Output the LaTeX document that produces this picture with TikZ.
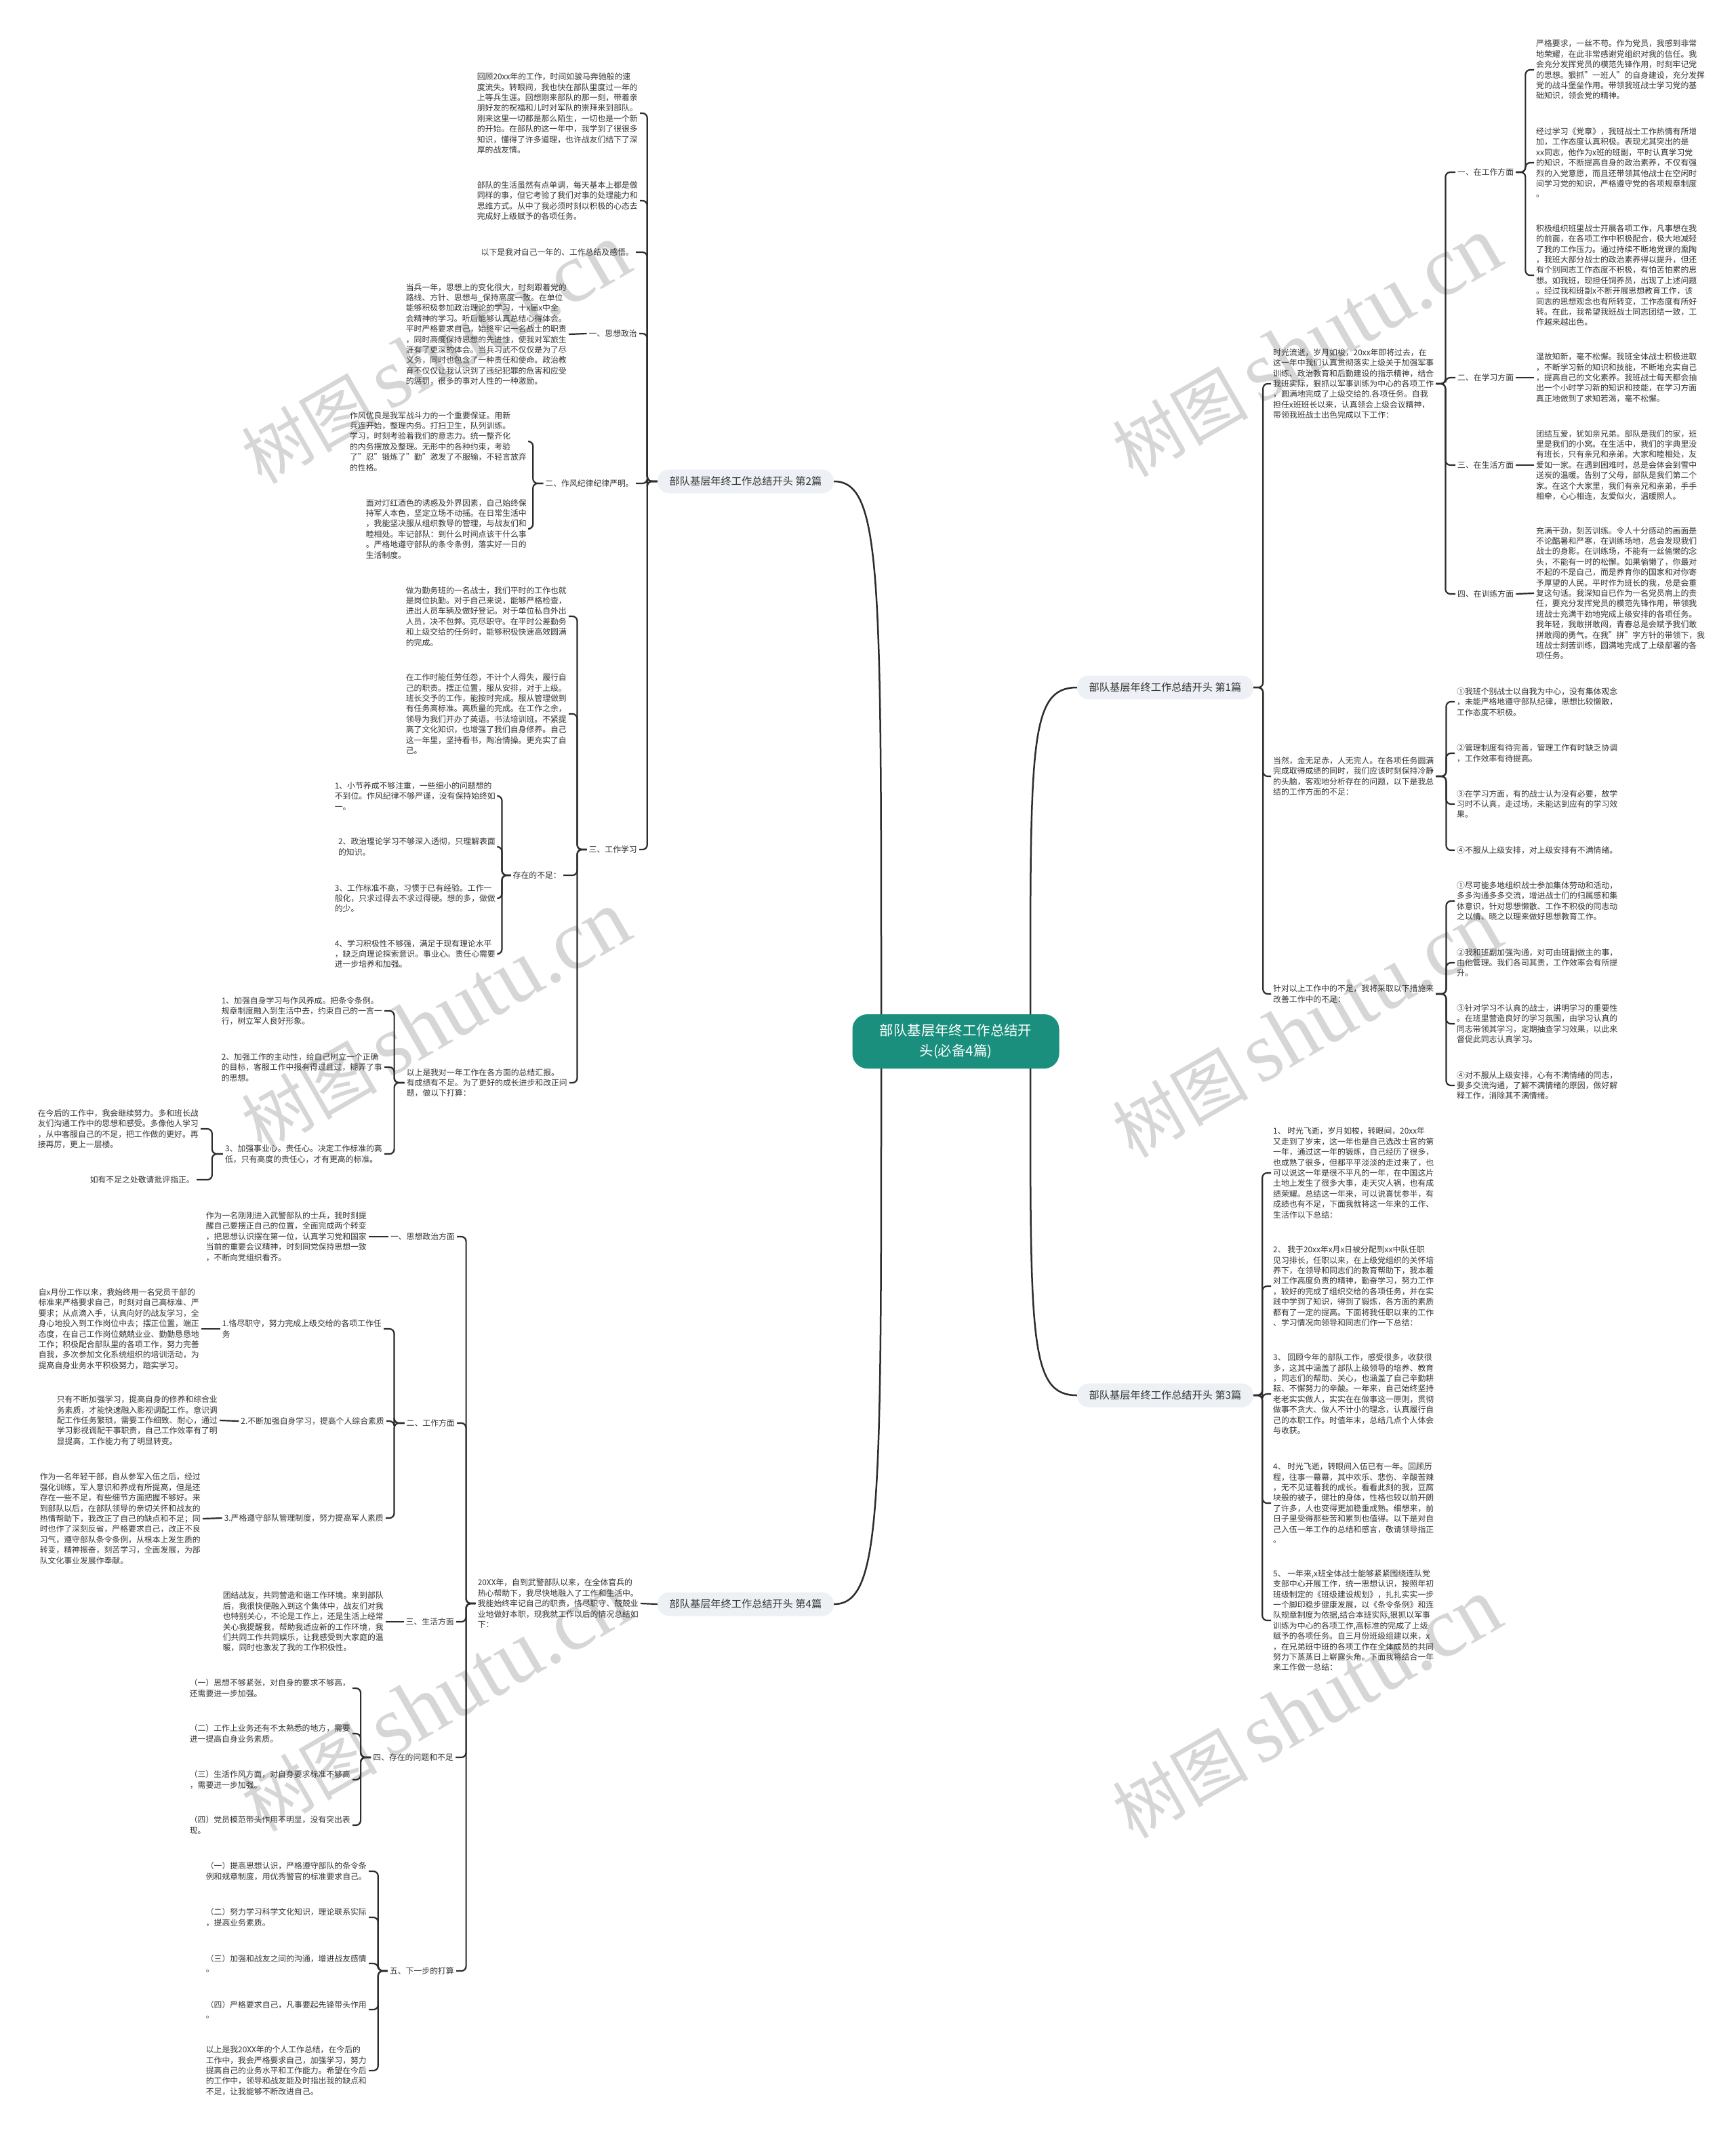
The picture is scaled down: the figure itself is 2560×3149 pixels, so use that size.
\documentclass[tikz,border=0pt]{standalone}
\usepackage{fontspec}
\setmainfont{Noto Sans CJK SC}
\newfontfamily\marcafont{Liberation Serif}
\definecolor{verde}{RGB}{26,143,125}
\definecolor{grisrama}{RGB}{237,240,244}
\definecolor{tinta}{RGB}{51,51,51}
\definecolor{linea}{RGB}{45,45,45}
\definecolor{grismarca}{RGB}{214,214,214}

\begin{document}
\begin{tikzpicture}[
        x=1pt, y=-1pt,
        raiz/.style={rectangle, rounded corners=22pt, fill=verde, text=white, minimum width=305pt, minimum height=80pt, align=center, font=\fontsize{20.4}{30}\selectfont},
        rama/.style={rectangle, rounded corners=17pt, fill=grisrama, text=tinta, minimum width=260pt, minimum height=35pt, font=\fontsize{15.2}{18}\selectfont},
        texto/.style={rectangle, align=left, inner sep=3pt, text=tinta, font=\fontsize{11.85}{15.4}\selectfont},
        sello/.style={text=grismarca, rotate=30, inner sep=0pt},
        enlace/.style={draw=linea, line width=2.2pt, rounded corners=7pt},
        curva/.style={draw=linea, line width=2.5pt}
    ]
        \fill[white] (0,0) rectangle (2560,3149);
        \useasboundingbox (0,0) rectangle (2560,3149);

        % marcas de agua
        \foreach \px/\py [count=\i] in {643/522, 1928/512, 643/1506, 1928/1516, 643/2510, 1928/2520}
            \node[sello] (sello\i) at (\px,\py) {\fontsize{100}{100}\selectfont 树图\,{\marcafont\fontsize{125}{125}\selectfont shutu.cn}};

        % centro y ramas
        \node[raiz] (raiz) at (1410,1536) {部队基层年终工作总结开\\头(必备4篇)};
        \node[rama] (b2) at (1100,710) {部队基层年终工作总结开头 第2篇};
        \node[rama] (b1) at (1719,1014) {部队基层年终工作总结开头 第1篇};
        \node[rama] (b3) at (1719,2058) {部队基层年终工作总结开头 第3篇};
        \node[rama] (b4) at (1100,2366) {部队基层年终工作总结开头 第4篇};

        \draw[curva] (b2.east) .. controls +(70,0) and +(0,-650) .. ([xshift=-110pt]raiz.north);
        \draw[curva] (b1.west) .. controls +(-70,0) and +(0,-400) .. ([xshift=110pt]raiz.north);
        \draw[curva] (b3.west) .. controls +(-70,0) and +(0,400) .. ([xshift=110pt]raiz.south);
        \draw[curva] (b4.east) .. controls +(70,0) and +(0,650) .. ([xshift=-110pt]raiz.south);

        % rama 2
        \node[texto, anchor=east] (p1) at (944,167) {回顾20xx年的工作，时间如骏马奔驰般的速\\度流失。转眼间，我也快在部队里度过一年的\\上等兵生涯。回想刚来部队的那一刻，带着亲\\朋好友的祝福和儿时对军队的崇拜来到部队。\\刚来这里一切都是那么陌生，一切也是一个新\\的开始。在部队的这一年中，我学到了很很多\\知识，懂得了许多道理，也许战友们结下了深\\厚的战友情。};
        \node[texto, anchor=east] (p2) at (944,296) {部队的生活虽然有点单调，每天基本上都是做\\同样的事，但它考验了我们对事的处理能力和\\思维方式。从中了我必须时刻以积极的心态去\\完成好上级赋予的各项任务。};
        \node[texto, anchor=east] (p3) at (938,372) {以下是我对自己一年的、工作总结及感悟。};
        \node[texto, anchor=east] (l1) at (943,492) {一、思想政治};
        \node[texto, anchor=east] (p4) at (839,493) {当兵一年，思想上的变化很大，时刻跟着党的\\路线、方针、思想与\_保持高度一致。在单位\\能够积极参加政治理论的学习，十x届x中全\\会精神的学习。听后能够认真总结心得体会。\\平时严格要求自己，始终牢记一名战士的职责\\，同时高度保持思想的先进性，使我对军旅生\\涯有了更深的体会。当兵习武不仅仅是为了尽\\义务，同时也包含了一种责任和使命。政治教\\育不仅仅让我认识到了违纪犯罪的危害和应受\\的惩罚，很多的事对人性的一种激励。};
        \node[texto, anchor=east] (l2) at (938,713) {二、作风纪律纪律严明。};
        \node[texto, anchor=east] (p5) at (780,651) {作风优良是我军战斗力的一个重要保证。用新\\兵连开始，整理内务。打扫卫生，队列训练。\\学习，时刻考验着我们的意志力。统一整齐化\\的内务摆放及整理。无形中的各种约束，考验\\了"忍"锻炼了"勤"激发了不服输，不轻言放弃\\的性格。};
        \node[texto, anchor=east] (p6) at (780,780) {面对灯红酒色的诱惑及外界因素，自己始终保\\持军人本色，坚定立场不动摇。在日常生活中\\，我能坚决服从组织教导的管理，与战友们和\\睦相处。牢记部队：到什么时间点该干什么事\\。严格地遵守部队的条令条例，落实好一日的\\生活制度。};
        \node[texto, anchor=east] (l3) at (943,1253) {三、工作学习};
        \node[texto, anchor=east] (p7) at (839,909) {做为勤务班的一名战士，我们平时的工作也就\\是岗位执勤。对于自己来说，能够严格检查，\\进出人员车辆及做好登记。对于单位私自外出\\人员，决不包弊。克尽职守。在平时公差勤务\\和上级交给的任务时，能够积极快速高效圆满\\的完成。};
        \node[texto, anchor=east] (p8) at (839,1053) {在工作时能任劳任怨，不计个人得失，履行自\\己的职责。摆正位置，服从安排，对于上级。\\班长交予的工作，能按时完成。服从管理做到\\有任务高标准。高质量的完成。在工作之余，\\领导为我们开办了英语。书法培训班。不紧提\\高了文化知识，也增强了我们自身修养。自己\\这一年里，坚持看书，陶冶情操。更充实了自\\己。};
        \node[texto, anchor=east] (l4) at (831,1291) {存在的不足：};
        \node[texto, anchor=east] (q1) at (734,1174) {1、小节养成不够注重，一些细小的问题想的\\不到位。作风纪律不够严谨，没有保持始终如\\一。};
        \node[texto, anchor=east] (q2) at (734,1249) {2、政治理论学习不够深入透彻，只理解表面\\的知识。};
        \node[texto, anchor=east] (q3) at (734,1325) {3、工作标准不高，习惯于已有经验。工作一\\般化，只求过得去不求过得硬。想的多，做做\\的少。};
        \node[texto, anchor=east] (q4) at (734,1407) {4、学习积极性不够强，满足于现有理论水平\\，缺乏向理论探索意识。事业心。责任心需要\\进一步培养和加强。};
        \node[texto, anchor=east] (p9) at (840,1597) {以上是我对一年工作在各方面的总结汇报。\\有成绩有不足。为了更好的成长进步和改正问\\题，做以下打算：};
        \node[texto, anchor=east] (r1) at (567,1491) {1、加强自身学习与作风养成。把条令条例。\\规章制度融入到生活中去，约束自己的一言一\\行，树立军人良好形象。};
        \node[texto, anchor=east] (r2) at (567,1574) {2、加强工作的主动性，给自己树立一个正确\\的目标，客服工作中报有得过且过，糊弄了事\\的思想。};
        \node[texto, anchor=east] (r3) at (567,1702) {3、加强事业心。责任心。决定工作标准的高\\低，只有高度的责任心，才有更高的标准。};
        \node[texto, anchor=east] (s1) at (296,1665) {在今后的工作中，我会继续努力。多和班长战\\友们沟通工作中的思想和感受。多像他人学习\\，从中客服自己的不足，把工作做的更好。再\\接再厉，更上一层楼。};
        \node[texto, anchor=east] (s2) at (290,1740) {如有不足之处敬请批评指正。};

        \draw[enlace] (b2.west) -- ++(-15,0) |- (p1.east);
        \draw[enlace] (b2.west) -- ++(-15,0) |- (p2.east);
        \draw[enlace] (b2.west) -- ++(-15,0) |- (p3.east);
        \draw[enlace] (b2.west) -- ++(-15,0) |- (l1.east);
        \draw[enlace] (b2.west) -- ++(-15,0) |- (l2.east);
        \draw[enlace] (b2.west) -- ++(-15,0) |- (l3.east);
        \draw[enlace] (l1.west) -- (p4.east);
        \draw[enlace] (l2.west) -- ++(-15,0) |- (p5.east);
        \draw[enlace] (l2.west) -- ++(-15,0) |- (p6.east);
        \draw[enlace] (l3.west) -- ++(-14,0) |- (p7.east);
        \draw[enlace] (l3.west) -- ++(-14,0) |- (p8.east);
        \draw[enlace] (l3.west) -- ++(-14,0) |- (l4.east);
        \draw[enlace] (l3.west) -- ++(-14,0) |- (p9.east);
        \draw[enlace] (l4.west) -- ++(-13,0) |- (q1.east);
        \draw[enlace] (l4.west) -- ++(-13,0) |- (q2.east);
        \draw[enlace] (l4.west) -- ++(-13,0) |- (q3.east);
        \draw[enlace] (l4.west) -- ++(-13,0) |- (q4.east);
        \draw[enlace] (p9.west) -- ++(-15,0) |- (r1.east);
        \draw[enlace] (p9.west) -- ++(-15,0) |- (r2.east);
        \draw[enlace] (p9.west) -- ++(-15,0) |- (r3.east);
        \draw[enlace] (r3.west) -- ++(-16,0) |- (s1.east);
        \draw[enlace] (r3.west) -- ++(-16,0) |- (s2.east);

        % rama 4
        \node[texto, anchor=east] (f0) at (945,2365) {20XX年，自到武警部队以来，在全体官兵的\\热心帮助下，我尽快地融入了工作和生活中。\\我能始终牢记自己的职责，恪尽职守、兢兢业\\业地做好本职，现我就工作以后的情况总结如\\下：};
        \node[texto, anchor=east] (m1) at (674,1824) {一、思想政治方面};
        \node[texto, anchor=east] (m2) at (674,2099) {二、工作方面};
        \node[texto, anchor=east] (m3) at (673,2392) {三、生活方面};
        \node[texto, anchor=east] (m4) at (672,2592) {四、存在的问题和不足};
        \node[texto, anchor=east] (m5) at (673,2907) {五、下一步的打算};
        \node[texto, anchor=east] (t1) at (544,1824) {作为一名刚刚进入武警部队的士兵，我时刻提\\醒自己要摆正自己的位置，全面完成两个转变\\，把思想认识摆在第一位，认真学习党和国家\\当前的重要会议精神，时刻同党保持思想一致\\，不断向党组织看齐。};
        \node[texto, anchor=east] (n1) at (566,1960) {1.恪尽职守，努力完成上级交给的各项工作任\\务};
        \node[texto, anchor=east] (n2) at (570,2096) {2.不断加强自身学习，提高个人综合素质};
        \node[texto, anchor=east] (n3) at (569,2239) {3.严格遵守部队管理制度，努力提高军人素质};
        \node[texto, anchor=east] (u1) at (297,1960) {自x月份工作以来，我始终用一名党员干部的\\标准来严格要求自己，时刻对自己高标准、严\\要求；从点滴入手，认真向好的战友学习，全\\身心地投入到工作岗位中去；摆正位置，端正\\态度，在自己工作岗位兢兢业业、勤勤恳恳地\\工作；积极配合部队里的各项工作，努力完善\\自我，多次参加文化系统组织的培训活动，为\\提高自身业务水平积极努力，踏实学习。};
        \node[texto, anchor=east] (u2) at (324,2095) {只有不断加强学习，提高自身的修养和综合业\\务素质，才能快速融入影视调配工作。意识调\\配工作任务繁琐，需要工作细致、耐心，通过\\学习影视调配干事职责，自己工作效率有了明\\显提高，工作能力有了明显转变。};
        \node[texto, anchor=east] (u3) at (299,2240) {作为一名年轻干部，自从参军入伍之后，经过\\强化训练，军人意识和养成有所提高，但是还\\存在一些不足，有些细节方面把握不够好。来\\到部队以后，在部队领导的亲切关怀和战友的\\热情帮助下，我改正了自己的缺点和不足；同\\时也作了深刻反省，严格要求自己，改正不良\\习气，遵守部队条令条例，从根本上发生质的\\转变，精神振奋，刻苦学习，全面发展，为部\\队文化事业发展作奉献。};
        \node[texto, anchor=east] (v1) at (569,2392) {团结战友，共同营造和谐工作环境。来到部队\\后，我很快便融入到这个集体中，战友们对我\\也特别关心，不论是工作上，还是生活上经常\\关心我提醒我，帮助我适应新的工作环境，我\\们共同工作共同娱乐，让我感受到大家庭的温\\暖，同时也激发了我的工作积极性。};
        \node[texto, anchor=east] (k1) at (520,2490) {（一）思想不够紧张，对自身的要求不够高，\\还需要进一步加强。};
        \node[texto, anchor=east] (k2) at (520,2557) {（二）工作上业务还有不太熟悉的地方，需要\\进一提高自身业务素质。};
        \node[texto, anchor=east] (k3) at (520,2625) {（三）生活作风方面，对自身要求标准不够高\\，需要进一步加强。};
        \node[texto, anchor=east] (k4) at (520,2692) {（四）党员模范带头作用不明显，没有突出表\\现。};
        \node[texto, anchor=east] (j1) at (544,2760) {（一）提高思想认识，严格遵守部队的条令条\\例和规章制度，用优秀警官的标准要求自己。};
        \node[texto, anchor=east] (j2) at (544,2828) {（二）努力学习科学文化知识，理论联系实际\\，提高业务素质。};
        \node[texto, anchor=east] (j3) at (544,2896) {（三）加强和战友之间的沟通，增进战友感情\\。};
        \node[texto, anchor=east] (j4) at (544,2964) {（四）严格要求自己，凡事要起先锋带头作用\\。};
        \node[texto, anchor=east] (j5) at (544,3054) {以上是我20XX年的个人工作总结，在今后的\\工作中，我会严格要求自己，加强学习，努力\\提高自己的业务水平和工作能力。希望在今后\\的工作中，领导和战友能及时指出我的缺点和\\不足，让我能够不断改进自己。};

        \draw[enlace] (b4.west) -- (f0.east);
        \draw[enlace] (f0.west) -- ++(-14,0) |- (m1.east);
        \draw[enlace] (f0.west) -- ++(-14,0) |- (m2.east);
        \draw[enlace] (f0.west) -- ++(-14,0) |- (m3.east);
        \draw[enlace] (f0.west) -- ++(-14,0) |- (m4.east);
        \draw[enlace] (f0.west) -- ++(-14,0) |- (m5.east);
        \draw[enlace] (m1.west) -- (t1.east);
        \draw[enlace] (m2.west) -- ++(-15,0) |- (n1.east);
        \draw[enlace] (m2.west) -- ++(-15,0) |- (n2.east);
        \draw[enlace] (m2.west) -- ++(-15,0) |- (n3.east);
        \draw[enlace] (n1.west) -- (u1.east);
        \draw[enlace] (n2.west) -- (u2.east);
        \draw[enlace] (n3.west) -- (u3.east);
        \draw[enlace] (m3.west) -- (v1.east);
        \draw[enlace] (m4.west) -- ++(-15,0) |- (k1.east);
        \draw[enlace] (m4.west) -- ++(-15,0) |- (k2.east);
        \draw[enlace] (m4.west) -- ++(-15,0) |- (k3.east);
        \draw[enlace] (m4.west) -- ++(-15,0) |- (k4.east);
        \draw[enlace] (m5.west) -- ++(-14,0) |- (j1.east);
        \draw[enlace] (m5.west) -- ++(-14,0) |- (j2.east);
        \draw[enlace] (m5.west) -- ++(-14,0) |- (j3.east);
        \draw[enlace] (m5.west) -- ++(-14,0) |- (j4.east);
        \draw[enlace] (m5.west) -- ++(-14,0) |- (j5.east);

        % rama 1
        \node[texto, anchor=west] (w1) at (1875,566) {时光流逝，岁月如梭，20xx年即将过去，在\\这一年中我们认真贯彻落实上级关于加强军事\\训练、政治教育和后勤建设的指示精神，结合\\我班实际，狠抓以军事训练为中心的各项工作\\，圆满地完成了上级交给的.各项任务。自我\\担任x班班长以来，认真领会上级会议精神，\\带领我班战士出色完成以下工作：};
        \node[texto, anchor=west] (w2) at (1875,1145) {当然，金无足赤，人无完人。在各项任务圆满\\完成取得成绩的同时，我们应该时刻保持冷静\\的头脑，客观地分析存在的问题，以下是我总\\结的工作方面的不足：};
        \node[texto, anchor=west] (w3) at (1875,1466) {针对以上工作中的不足，我将采取以下措施来\\改善工作中的不足：};
        \node[texto, anchor=west] (h1) at (2147,254) {一、在工作方面};
        \node[texto, anchor=west] (h2) at (2147,557) {二、在学习方面};
        \node[texto, anchor=west] (h3) at (2147,686) {三、在生活方面};
        \node[texto, anchor=west] (h4) at (2147,876) {四、在训练方面};
        \node[texto, anchor=west] (x1) at (2263,103) {严格要求，一丝不苟。作为党员，我感到非常\\地荣耀，在此非常感谢党组织对我的信任。我\\会充分发挥党员的模范先锋作用，时刻牢记党\\的思想。狠抓"一班人"的自身建设，充分发挥\\党的战斗堡垒作用。带领我班战士学习党的基\\础知识，领会党的精神。};
        \node[texto, anchor=west] (x2) at (2263,240) {经过学习《党章》，我班战士工作热情有所增\\加，工作态度认真积极。表现尤其突出的是\\xx同志，他作为x班的班副，平时认真学习党\\的知识，不断提高自身的政治素养，不仅有强\\烈的入党意愿，而且还带领其他战士在空闲时\\间学习党的知识，严格遵守党的各项规章制度\\。};
        \node[texto, anchor=west] (x3) at (2263,406) {积极组织班里战士开展各项工作，凡事想在我\\的前面，在各项工作中积极配合，极大地减轻\\了我的工作压力。通过持续不断地党课的熏陶\\，我班大部分战士的政治素养得以提升，但还\\有个别同志工作态度不积极，有怕苦怕累的思\\想。如我班，现担任饲养员，出现了上述问题\\。经过我和班副x不断开展思想教育工作，该\\同志的思想观念也有所转变，工作态度有所好\\转。在此，我希望我班战士同志团结一致，工\\作越来越出色。};
        \node[texto, anchor=west] (x4) at (2263,557) {温故知新，毫不松懈。我班全体战士积极进取\\，不断学习新的知识和技能，不断地充实自己\\，提高自己的文化素养。我班战士每天都会抽\\出一个小时学习新的知识和技能，在学习方面\\真正地做到了求知若渴，毫不松懈。};
        \node[texto, anchor=west] (x5) at (2263,686) {团结互爱，犹如亲兄弟。部队是我们的家，班\\里是我们的小窝。在生活中，我们的字典里没\\有班长，只有亲兄和亲弟。大家和睦相处，友\\爱如一家。在遇到困难时，总是会体会到雪中\\送炭的温暖。告别了父母，部队是我们第二个\\家。在这个大家里，我们有亲兄和亲弟，手手\\相牵，心心相连，友爱似火，温暖照人。};
        \node[texto, anchor=west] (x6) at (2263,875) {充满干劲，刻苦训练。令人十分感动的画面是\\不论酷暑和严寒，在训练场地，总会发现我们\\战士的身影。在训练场，不能有一丝偷懒的念\\头，不能有一时的松懈。如果偷懒了，你最对\\不起的不是自己，而是养育你的国家和对你寄\\予厚望的人民。平时作为班长的我，总是会重\\复这句话。我深知自已作为一名党员肩上的责\\任，要充分发挥党员的模范先锋作用，带领我\\班战士充满干劲地完成上级安排的各项任务。\\我年轻，我敢拼敢闯，青春总是会赋予我们敢\\拼敢闯的勇气。在我"拼"字方针的带领下，我\\班战士刻苦训练，圆满地完成了上级部署的各\\项任务。};
        \node[texto, anchor=west] (y1) at (2146,1035) {①我班个别战士以自我为中心，没有集体观念\\，未能严格地遵守部队纪律，思想比较懒散，\\工作态度不积极。};
        \node[texto, anchor=west] (y2) at (2146,1111) {②管理制度有待完善，管理工作有时缺乏协调\\，工作效率有待提高。};
        \node[texto, anchor=west] (y3) at (2146,1186) {③在学习方面，有的战士认为没有必要，故学\\习时不认真，走过场，未能达到应有的学习效\\果。};
        \node[texto, anchor=west] (y4) at (2146,1254) {④不服从上级安排，对上级安排有不满情绪。};
        \node[texto, anchor=west] (z1) at (2146,1329) {①尽可能多地组织战士参加集体劳动和活动，\\多多沟通多多交流，增进战士们的归属感和集\\体意识，针对思想懒散、工作不积极的同志动\\之以情、晓之以理来做好思想教育工作。};
        \node[texto, anchor=west] (z2) at (2146,1420) {②我和班副加强沟通，对可由班副做主的事，\\由他管理。我们各司其责，工作效率会有所提\\升。};
        \node[texto, anchor=west] (z3) at (2146,1510) {③针对学习不认真的战士，讲明学习的重要性\\。在班里营造良好的学习氛围，由学习认真的\\同志带领其学习，定期抽查学习效果，以此来\\督促此同志认真学习。};
        \node[texto, anchor=west] (z4) at (2146,1601) {④对不服从上级安排，心有不满情绪的同志，\\要多交流沟通，了解不满情绪的原因，做好解\\释工作，消除其不满情绪。};

        \draw[enlace] (b1.east) -- ++(14,0) |- (w1.west);
        \draw[enlace] (b1.east) -- ++(14,0) |- (w2.west);
        \draw[enlace] (b1.east) -- ++(14,0) |- (w3.west);
        \draw[enlace] (w1.east) -- ++(14,0) |- (h1.west);
        \draw[enlace] (w1.east) -- ++(14,0) |- (h2.west);
        \draw[enlace] (w1.east) -- ++(14,0) |- (h3.west);
        \draw[enlace] (w1.east) -- ++(14,0) |- (h4.west);
        \draw[enlace] (h1.east) -- ++(14,0) |- (x1.west);
        \draw[enlace] (h1.east) -- ++(14,0) |- (x2.west);
        \draw[enlace] (h1.east) -- ++(14,0) |- (x3.west);
        \draw[enlace] (h2.east) -- (x4.west);
        \draw[enlace] (h3.east) -- (x5.west);
        \draw[enlace] (h4.east) -- (x6.west);
        \draw[enlace] (w2.east) -- ++(15,0) |- (y1.west);
        \draw[enlace] (w2.east) -- ++(15,0) |- (y2.west);
        \draw[enlace] (w2.east) -- ++(15,0) |- (y3.west);
        \draw[enlace] (w2.east) -- ++(15,0) |- (y4.west);
        \draw[enlace] (w3.east) -- ++(15,0) |- (z1.west);
        \draw[enlace] (w3.east) -- ++(15,0) |- (z2.west);
        \draw[enlace] (w3.east) -- ++(15,0) |- (z3.west);
        \draw[enlace] (w3.east) -- ++(15,0) |- (z4.west);

        % rama 3
        \node[texto, anchor=west] (aa1) at (1875,1730) {1、 时光飞逝，岁月如梭，转眼间，20xx年\\又走到了岁末，这一年也是自己选改士官的第\\一年，通过这一年的锻炼，自己经历了很多，\\也成熟了很多，但都平平淡淡的走过来了，也\\可以说这一年是很不平凡的一年，在中国这片\\土地上发生了很多大事，走天灾人祸，也有成\\绩荣耀。总结这一年来，可以说喜忧参半，有\\成绩也有不足，下面我就将这一年来的工作、\\生活作以下总结：};
        \node[texto, anchor=west] (aa2) at (1875,1897) {2、 我于20xx年x月x日被分配到xx中队任职\\见习排长，任职以来，在上级党组织的关怀培\\养下，在领导和同志们的教育帮助下，我本着\\对工作高度负责的精神，勤奋学习，努力工作\\，较好的完成了组织交给的各项任务，并在实\\践中学到了知识，得到了锻炼，各方面的素质\\都有了一定的提高。下面将我任职以来的工作\\、学习情况向领导和同志们作一下总结：};
        \node[texto, anchor=west] (aa3) at (1875,2056) {3、 回顾今年的部队工作，感受很多，收获很\\多，这其中涵盖了部队上级领导的培养、教育\\，同志们的帮助、关心，也涵盖了自己辛勤耕\\耘、不懈努力的辛酸。一年来，自己始终坚持\\老老实实做人，实实在在做事这一原则，贯彻\\做事不贪大、做人不计小的理念，认真履行自\\己的本职工作。时值年末，总结几点个人体会\\与收获。};
        \node[texto, anchor=west] (aa4) at (1875,2217) {4、 时光飞逝，转眼间入伍已有一年。回顾历\\程，往事一幕幕，其中欢乐、悲伤、辛酸苦辣\\，无不见证着我的成长。看看此刻的我，豆腐\\块般的被子，健壮的身体，性格也较以前开朗\\了许多，人也变得更加稳重成熟。细想来，前\\日子里受得那些苦和累到也值得。以下是对自\\己入伍一年工作的总结和感言，敬请领导指正\\。};
        \node[texto, anchor=west] (aa5) at (1875,2390) {5、 一年来,x班全体战士能够紧紧围绕连队党\\支部中心开展工作，统一思想认识，按照年初\\班级制定的《班级建设规划》，扎扎实实一步\\一个脚印稳步健康发展，以《条令条例》和连\\队规章制度为依据,结合本班实际,狠抓以军事\\训练为中心的各项工作,高标准的完成了上级\\赋予的各项任务。自三月份班级组建以来，x\\，在兄弟班中班的各项工作在全体成员的共同\\努力下蒸蒸日上崭露头角。下面我将结合一年\\来工作做一总结：};

        \draw[enlace] (b3.east) -- ++(13,0) |- (aa1.west);
        \draw[enlace] (b3.east) -- ++(13,0) |- (aa2.west);
        \draw[enlace] (b3.east) -- ++(13,0) |- (aa3.west);
        \draw[enlace] (b3.east) -- ++(13,0) |- (aa4.west);
        \draw[enlace] (b3.east) -- ++(13,0) |- (aa5.west);
    \end{tikzpicture}
\end{document}
